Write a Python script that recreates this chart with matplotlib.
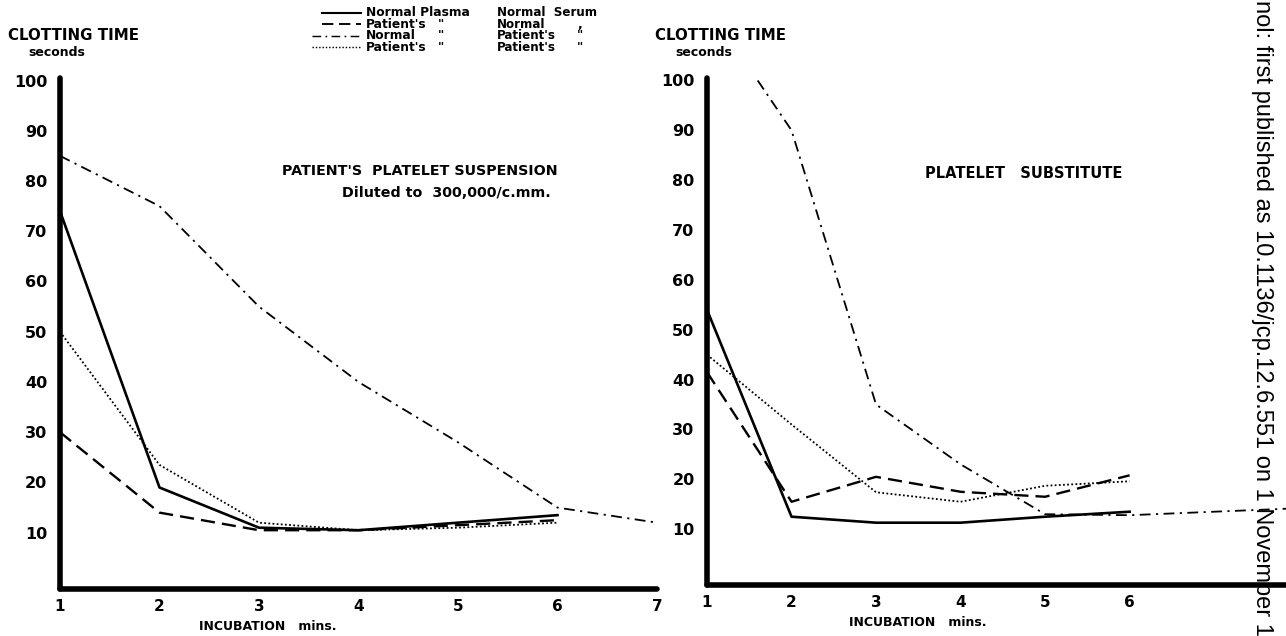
import matplotlib.pyplot as plt
from matplotlib.lines import Line2D

# --- data (clotting time, seconds) ---
incubation = [1, 2, 3, 4, 5, 6]
incubation_long = [1, 2, 3, 4, 5, 6, 7]

# left: patient's platelet suspension
left_np_ns = [74, 19, 11, 10.5, 12, 13.5]     # normal plasma, normal serum
left_pp_ns = [30, 14, 10.5, 10.5, 11.5, 12.5]  # patient's plasma, normal serum
left_np_ps = [85, 75, 55, 40, 28, 15, 12]     # normal plasma, patient's serum
left_pp_ps = [50, 23.5, 12, 10.5, 11, 12]     # patient's plasma, patient's serum

# right: platelet substitute
right_np_ns = [54, 12.5, 11.3, 11.3, 12.5, 13.5]
right_pp_ns = [41.5, 15.5, 20.5, 17.5, 16.5, 20.8]
right_np_ps_x = [1.6, 2, 3, 4, 5, 6, 8]
right_np_ps = [100, 90, 35, 23, 13, 12.8, 14.2]
right_pp_ps = [45, 31, 17.4, 15.5, 18.7, 19.6]

y_ticks = [10, 20, 30, 40, 50, 60, 70, 80, 90, 100]

plt.rcParams['font.family'] = ['DejaVu Sans']
plt.rcParams['font.weight'] = 'bold'

styles = {
    'np_ns': dict(color='black', lw=1.9, ls='-'),
    'pp_ns': dict(color='black', lw=1.7, ls=(0, (6, 3))),
    'np_ps': dict(color='black', lw=1.3, ls=(0, (6, 3, 1.2, 3))),
    'pp_ps': dict(color='black', lw=1.3, ls=(0, (1, 1.3))),
}

W, H = 1286, 636
fig = plt.figure(figsize=(W / 100, H / 100), dpi=100)
ax1 = fig.add_axes([60 / W, 1 - 589 / H, 597 / W, (589 - 78) / H])
ax2 = fig.add_axes([707 / W, 1 - 585 / H, (W - 707) / W, (585 - 78) / H])


def style_axes(ax, xmax, xticks):
    ax.set_xlim(1, xmax)
    ax.set_ylim(-1.2, 100.5)
    for s in ['top', 'right']:
        ax.spines[s].set_visible(False)
    for s in ['left', 'bottom']:
        ax.spines[s].set_linewidth(4)
        ax.spines[s].set_capstyle('round')
    ax.set_yticks(y_ticks)
    ax.set_yticklabels([str(t) for t in y_ticks], fontsize=11.5)
    ax.set_xticks(xticks)
    ax.set_xticklabels([str(t) for t in xticks], fontsize=11)
    ax.tick_params(length=0, pad=7)
    ax.tick_params(axis='y', pad=9)


# left panel
ax1.plot(incubation, left_np_ns, **styles['np_ns'])
ax1.plot(incubation, left_pp_ns, **styles['pp_ns'])
ax1.plot(incubation_long, left_np_ps, **styles['np_ps'])
ax1.plot(incubation, left_pp_ps, **styles['pp_ps'])
style_axes(ax1, 7, [1, 2, 3, 4, 5, 6, 7])
fig.text(282 / W, 1 - 171 / H, "PATIENT'S  PLATELET SUSPENSION", fontsize=10.3, va='center')
fig.text(342 / W, 1 - 193 / H, "Diluted to  300,000/c.mm.", fontsize=10.3, va='center')

# right panel
ax2.plot(incubation, right_np_ns, **styles['np_ns'])
ax2.plot(incubation, right_pp_ns, **styles['pp_ns'])
ax2.plot(right_np_ps_x, right_np_ps, **styles['np_ps'])
ax2.plot(incubation, right_pp_ps, **styles['pp_ps'])
style_axes(ax2, 7.85, [1, 2, 3, 4, 5, 6])
fig.text(925 / W, 1 - 173 / H, "PLATELET   SUBSTITUTE", fontsize=10.5, va='center')

# axis titles
for x0, x1 in [(8, 28), (655, 675)]:
    fig.text(x0 / W, 1 - 35 / H, "CLOTTING TIME", fontsize=10.8, va='center')
    fig.text(x1 / W, 1 - 52 / H, "seconds", fontsize=9, va='center')
fig.text(268 / W, 1 - 627 / H, "INCUBATION   mins.", fontsize=9, ha='center', va='center')
fig.text(918 / W, 1 - 622 / H, "INCUBATION   mins.", fontsize=9, ha='center', va='center')

# legend, laid out as in the original: key | plasma | ditto | serum | ditto
keys = ['np_ns', 'pp_ns', 'np_ps', 'pp_ps']
plasma = ['Normal Plasma', "Patient's", 'Normal', "Patient's"]
serum = ['Normal  Serum', 'Normal', "Patient's", "Patient's"]
ditto1 = ['', '"', '"', '"']
ditto2 = ['', ',', '"', '"']
key_start = [322, 322, 312, 312]
for i in range(4):
    y = 1 - (13 + i * 11.4) / H
    fig.add_artist(Line2D([key_start[i] / W, 361 / W], [y, y], transform=fig.transFigure,
                          **{**styles[keys[i]], 'lw': styles[keys[i]]['lw'] * 0.8}))
    fig.text(366 / W, y, plasma[i], fontsize=8.8, va='center')
    fig.text(438 / W, y, ditto1[i], fontsize=8.8, va='center')
    fig.text(497 / W, y, serum[i], fontsize=8.6, va='center')
    fig.text(577 / W, y, ditto2[i], fontsize=8.8, va='center')

# DOI strip from the scanned page
fig.text(1262 / W, 1.0, "nol: first published as 10.1136/jcp.12.6.551 on 1 November 1",
         rotation=-90, fontsize=17, family='Liberation Sans', fontweight='normal',
         ha='center', va='top')

fig.savefig('out.png', dpi=100)
